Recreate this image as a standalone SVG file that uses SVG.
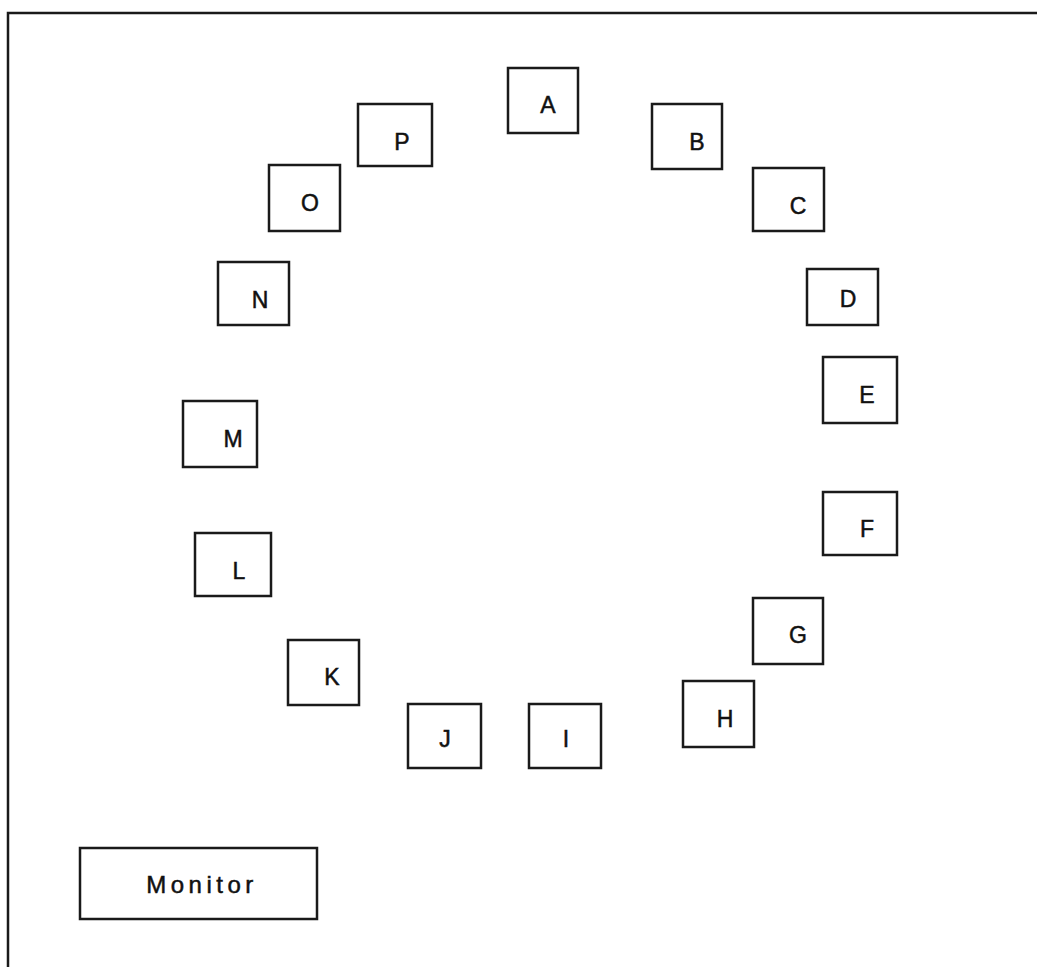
<svg xmlns="http://www.w3.org/2000/svg" width="1037" height="967" viewBox="0 0 1037 967">
<style>
.box{fill:#fff;stroke:#1a1a1a;stroke-width:2.5}
.lbl{font-family:"Liberation Sans",Arial,sans-serif;font-size:23px;fill:#111;stroke:#111;stroke-width:0.5;text-anchor:middle}
.wide{letter-spacing:4.5px;font-size:24px}
.frame{fill:none;stroke:#1a1a1a;stroke-width:2.5}
</style>
<rect width="1037" height="967" fill="#fff"/>
<path class="frame" d="M8,975 V13 H1045"/>
<g id="connectors"/>
<g id="node-A"><rect class="box" x="508" y="68" width="70" height="65"/><text class="lbl" x="548" y="113">A</text></g>
<g id="node-B"><rect class="box" x="652" y="104" width="70" height="65"/><text class="lbl" x="697" y="150">B</text></g>
<g id="node-C"><rect class="box" x="753" y="168" width="71" height="63"/><text class="lbl" x="798" y="214">C</text></g>
<g id="node-D"><rect class="box" x="807" y="269" width="71" height="56"/><text class="lbl" x="848" y="307">D</text></g>
<g id="node-E"><rect class="box" x="823" y="357" width="74" height="66"/><text class="lbl" x="867" y="403">E</text></g>
<g id="node-F"><rect class="box" x="823" y="492" width="74" height="63"/><text class="lbl" x="867" y="537">F</text></g>
<g id="node-G"><rect class="box" x="753" y="598" width="70" height="66"/><text class="lbl" x="798" y="643">G</text></g>
<g id="node-H"><rect class="box" x="683" y="681" width="71" height="66"/><text class="lbl" x="725" y="727">H</text></g>
<g id="node-I"><rect class="box" x="529" y="704" width="72" height="64"/><text class="lbl" x="566" y="747">I</text></g>
<g id="node-J"><rect class="box" x="408" y="704" width="73" height="64"/><text class="lbl" x="445" y="747">J</text></g>
<g id="node-K"><rect class="box" x="288" y="640" width="71" height="65"/><text class="lbl" x="332" y="685">K</text></g>
<g id="node-L"><rect class="box" x="195" y="533" width="76" height="63"/><text class="lbl" x="239" y="579">L</text></g>
<g id="node-M"><rect class="box" x="183" y="401" width="74" height="66"/><text class="lbl" x="233" y="447">M</text></g>
<g id="node-N"><rect class="box" x="218" y="262" width="71" height="63"/><text class="lbl" x="260" y="308">N</text></g>
<g id="node-O"><rect class="box" x="269" y="165" width="71" height="66"/><text class="lbl" x="310" y="211">O</text></g>
<g id="node-P"><rect class="box" x="358" y="104" width="74" height="62"/><text class="lbl" x="402" y="150">P</text></g>
<g id="node-Monitor"><rect class="box" x="80" y="848" width="237" height="71"/><text class="lbl wide" x="202" y="893">Monitor</text></g>
</svg>
